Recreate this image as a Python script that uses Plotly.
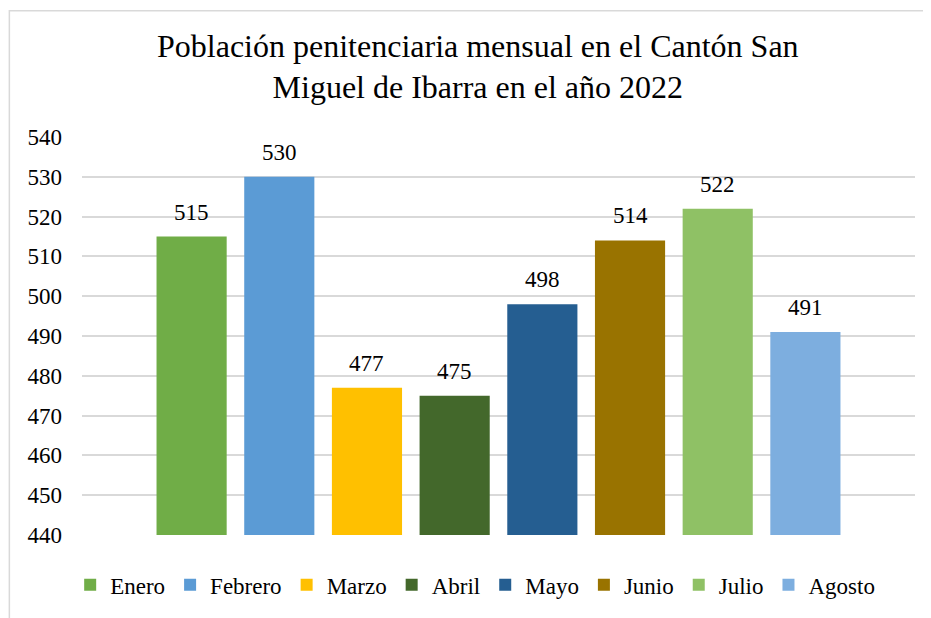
import plotly.graph_objects as go

# Monthly prison population, Cantón San Miguel de Ibarra, 2022
months = ["Enero", "Febrero", "Marzo", "Abril", "Mayo", "Junio", "Julio", "Agosto"]
population = [515, 530, 477, 475, 498, 514, 522, 491]
colors = ["#70AD47", "#5B9BD5", "#FFC000", "#43682B", "#255E91", "#997300", "#8FC165", "#7DAEDF"]
y_ticks = [440, 450, 460, 470, 480, 490, 500, 510, 520, 530, 540]

FONT = "Liberation Serif, Times New Roman, serif"
GRID = "#D9D9D9"

fig = go.Figure()
for month, value, color in zip(months, population, colors):
    fig.add_trace(
        go.Bar(
            x=[month],
            y=[value],
            name=month,
            width=0.8,
            marker=dict(color=color, line=dict(width=0)),
        )
    )
    fig.add_annotation(
        x=month,
        y=value,
        text=str(value),
        showarrow=False,
        yanchor="bottom",
        yshift=10,
        font=dict(family=FONT, size=23, color="#000000"),
    )

# light-grey chart-area frame (left/top edges visible)
fig.add_shape(
    type="rect",
    xref="paper",
    yref="paper",
    x0=-0.0872,
    x1=1.05,
    y0=-0.3,
    y1=1.3175,
    line=dict(color=GRID, width=1.5),
    fillcolor="rgba(0,0,0,0)",
    layer="below",
)

# page body has an 8px margin, so the figure is sized/offset to compensate
fig.update_layout(
    width=923,
    height=610,
    margin=dict(l=74, r=16, t=129, b=71),
    paper_bgcolor="white",
    plot_bgcolor="white",
    barmode="overlay",
    font=dict(family=FONT, size=23, color="#000000"),
    title=dict(
        text="Población penitenciaria mensual en el Cantón San<br>Miguel de Ibarra en el año 2022",
        x=0.509,
        xanchor="center",
        xref="container",
        y=0.92,
        yanchor="top",
        font=dict(family=FONT, size=32, color="#000000"),
    ),
    xaxis=dict(
        range=[-1.25, 8.25],
        showticklabels=False,
        showgrid=False,
        zeroline=False,
        showline=False,
        ticks="",
    ),
    yaxis=dict(
        range=[440, 540],
        tickvals=y_ticks,
        gridcolor=GRID,
        gridwidth=1.5,
        zeroline=False,
        showline=False,
        ticks="",
        ticklabelstandoff=19,
        tickfont=dict(family=FONT, size=23, color="#000000"),
    ),
    legend=dict(
        orientation="h",
        x=0.472,
        xanchor="center",
        y=-0.125,
        yanchor="middle",
        font=dict(family=FONT, size=23, color="#000000"),
        itemwidth=30,
        traceorder="normal",
    ),
    showlegend=True,
)

fig.write_html("out.html")
